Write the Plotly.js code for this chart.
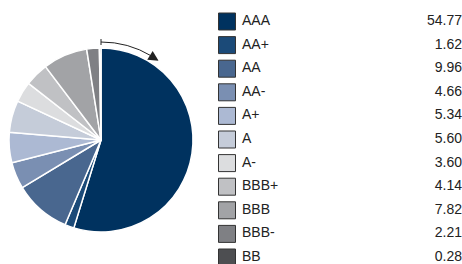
<!DOCTYPE html>
<html><head><meta charset="utf-8">
<script src="https://cdn.plot.ly/plotly-3.0.1.min.js"></script>
<style>html,body{margin:0;padding:0;background:#fff}#c{width:462px;height:264px}</style>
</head><body><div id="c"></div>
<script>
var ratings = ["AAA","AA+","AA","AA-","A+","A","A-","BBB+","BBB","BBB-","BB"];
var weights = [54.77,1.62,9.96,4.66,5.34,5.60,3.60,4.14,7.82,2.21,0.28];
var valueLabels = ["54.77","1.62","9.96","4.66","5.34","5.60","3.60","4.14","7.82","2.21","0.28"];
var colors = ["#00325f","#1b4a78","#49678f","#7a8fb2","#acb9d3","#c5ccd9","#dcdddf","#c0c1c4","#a2a3a6","#7f8084","#4d4e51"];

var W=462,H=264;
var idx = ratings.map(function(_,i){return i;});
var font = {family:"Liberation Sans, Arial, Helvetica, sans-serif", size:14, color:"#222"};
function px(x){return x/W;} function py(y){return 1-y/H;}

var cx=101, cy=140, r=92;
var traces = [
 {type:"pie", values:weights, labels:ratings, sort:false, direction:"clockwise", rotation:0,
  marker:{colors:colors, line:{color:"#fff", width:1.5}}, textinfo:"none", hoverinfo:"label+value",
  domain:{x:[px(cx-r),px(cx+r)], y:[py(cy+r),py(cy-r)]}, showlegend:false},
 {type:"scatter", mode:"markers", x:idx.map(function(){return 227;}), y:idx, xaxis:"x", yaxis:"y",
  marker:{symbol:"square", size:17, color:colors, line:{color:"#333", width:1}}, showlegend:false, hoverinfo:"skip"},
 {type:"scatter", mode:"text", x:idx.map(function(){return 242;}), y:idx, text:ratings, textposition:"middle right",
  textfont:font, showlegend:false, hoverinfo:"skip"},
 {type:"scatter", mode:"text", x:idx.map(function(){return 462;}), y:idx, text:valueLabels, textposition:"middle left",
  textfont:font, showlegend:false, hoverinfo:"skip"}
];

// row i at pixel y = 21 + i*23.6
var y0 = -21.5/23.6, y1 = (H-21.5)/23.6;
var arcR=98, th=31*Math.PI/180;
var ex=cx+arcR*Math.sin(th), ey=cy-arcR*Math.cos(th);
var cr=arcR/Math.cos(th/2), qx=cx+cr*Math.sin(th/2), qy=cy-cr*Math.cos(th/2);
var path = "M "+px(cx)+" "+py(cy-arcR)+" Q "+px(qx)+" "+py(qy)+" "+px(ex)+" "+py(ey);

var layout = {
 width:W, height:H, margin:{l:0,r:0,t:0,b:0}, paper_bgcolor:"#fff", plot_bgcolor:"rgba(0,0,0,0)",
 xaxis:{range:[0,W], visible:false, fixedrange:true},
 yaxis:{range:[y1,y0], visible:false, fixedrange:true},
 shapes:[
  {type:"path", xref:"paper", yref:"paper", path:path, line:{color:"#222", width:1}},
  {type:"line", xref:"paper", yref:"paper", x0:px(cx), x1:px(cx), y0:py(cy-arcR-3), y1:py(cy-arcR+3), line:{color:"#222", width:1}}
 ],
 annotations:[
  {xref:"paper", yref:"paper", x:px(cx+arcR*Math.sin(36*Math.PI/180)), y:py(cy-arcR*Math.cos(36*Math.PI/180)),
   ax:-8, ay:-5, axref:"pixel", ayref:"pixel", text:"", showarrow:true, arrowhead:2, arrowsize:1.7, arrowwidth:1.2, arrowcolor:"#222"}
 ],
 hovermode:false
};
Plotly.newPlot("c", traces, layout, {displayModeBar:false, staticPlot:true});
</script></body></html>
